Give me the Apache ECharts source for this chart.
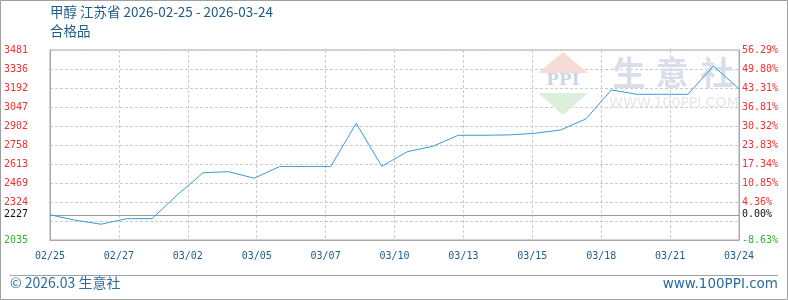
<!DOCTYPE html>
<html>
<head>
<meta charset="utf-8">
<script src="https://cdn.jsdelivr.net/npm/echarts@6/dist/echarts.min.js"></script>
<style>
html,body{margin:0;padding:0;background:#fff;}
#chart{width:788px;height:300px;}
</style>
</head>
<body>
<div id="chart"></div>
<script>
// ---- data ----
var dates = ['02/25','02/26','02/27','02/28','03/01','03/02','03/03','03/04','03/05','03/06',
             '03/07','03/08','03/09','03/10','03/11','03/12','03/13','03/14','03/15','03/16',
             '03/17','03/18','03/19','03/20','03/21','03/22','03/23','03/24'];
var prices = [2227,2185,2155,2197,2198,2380,2547,2555,2505,2594,
              2594,2594,2923,2596,2707,2748,2832,2832,2835,2847,
              2872,2956,3177,3144,3144,3144,3359,3185];
var basePrice = 2227;
var leftTicks  = ['2035','','2324','2469','2613','2758','2902','3047','3192','3336','3481'];
var rightTicks = ['-8.63%','','4.36%','10.85%','17.34%','23.83%','30.32%','36.81%','43.31%','49.80%','56.29%'];
var yMin = 2035, yMax = 3481, yStep = 144.6;
var titleText = '甲醇 江苏省 2026-02-25 - 2026-03-24';
var subTitleText = '合格品';
var footLeft = '© 2026.03 生意社';
var footRight = 'www.100PPI.com';

var seriesData = prices.map(function (v, i) { return [i, v]; });
function tickIdx(v) { return Math.round((v - yMin) / yStep); }
function tickColor(v) {
  var i = tickIdx(v);
  return i === 0 ? '#33b033' : '#f03030';
}
var mono = 'DejaVu Sans Mono';

var chart = echarts.init(document.getElementById('chart'), null, {renderer: 'canvas'});
chart.setOption({
  animation: false,
  backgroundColor: '#fff',
  grid: {left: 50, right: 49, top: 50, bottom: 60, show: true, borderColor: '#a8a8a8', borderWidth: 1},
  xAxis: {
    type: 'value', min: 0, max: dates.length - 1, interval: 2.7,
    axisLine: {show: true, lineStyle: {color: '#a8a8a8'}},
    axisTick: {show: false},
    splitLine: {show: true, lineStyle: {color: '#cccccc', type: [3, 2]}},
    axisLabel: {
      show: true, margin: 11, color: '#1d5b88', fontFamily: mono, fontSize: 10,
      showMinLabel: true, showMaxLabel: true,
      formatter: function (v) { return dates[Math.floor(v + 1e-6)]; }
    }
  },
  yAxis: [{
    type: 'value', min: yMin, max: yMax, interval: yStep, position: 'left',
    axisLine: {show: true, lineStyle: {color: '#a8a8a8'}},
    axisTick: {show: false},
    splitLine: {show: true, lineStyle: {color: '#cccccc', type: [3, 2]}},
    axisLabel: {
      margin: 22, fontFamily: mono, fontSize: 10, color: tickColor,
      showMinLabel: true, showMaxLabel: true,
      formatter: function (v) { return leftTicks[tickIdx(v)]; }
    }
  }, {
    type: 'value', min: yMin, max: yMax, interval: yStep, position: 'right',
    axisLine: {show: true, lineStyle: {color: '#a8a8a8'}},
    axisTick: {show: false},
    splitLine: {show: false},
    axisLabel: {
      margin: 3, fontFamily: mono, fontSize: 10, color: tickColor,
      showMinLabel: true, showMaxLabel: true,
      formatter: function (v) { return rightTicks[tickIdx(v)]; }
    }
  }],
  graphic: [
    {type: 'rect', shape: {x: 0.5, y: 0.5, width: 787, height: 299}, style: {fill: 'none', stroke: '#a0a0a0', lineWidth: 1}, silent: true, z: 0},
    {type: 'text', left: 50, top: 5, style: {text: titleText, fill: '#1d5b88', font: '13.5px "Noto Sans CJK SC"'}, z: 10},
    {type: 'text', left: 50, top: 24, style: {text: subTitleText, fill: '#1d5b88', font: '13.5px "Noto Sans CJK SC"'}, z: 10},
    {type: 'line', shape: {x1: 10, y1: 275.5, x2: 778, y2: 275.5}, style: {stroke: '#a0a0a0', lineWidth: 1}, z: 10},
    {type: 'text', left: 10, top: 276, style: {text: footLeft, fill: '#2a6ca3', font: '14px "Noto Sans CJK SC"'}, z: 10},
    {type: 'text', right: 10, top: 277, style: {text: footRight, fill: '#2a6ca3', font: '13.5px "DejaVu Sans"'}, z: 10},
    // watermark
    {type: 'polygon', shape: {points: [[538, 73], [563, 52], [588, 73]]}, style: {fill: '#f7dcd5'}, silent: true, z: 1},
    {type: 'text', x: 563, y: 81, style: {text: 'PPI', fill: '#cdd4e4', font: 'bold 17px "DejaVu Serif"', align: 'center', verticalAlign: 'middle'}, silent: true, z: 1},
    {type: 'polygon', shape: {points: [[538, 93], [588, 93], [563, 115]]}, style: {fill: '#dcefdc'}, silent: true, z: 1},
    {type: 'text', x: 629, y: 72, style: {text: '生', fill: '#d9deea', font: 'bold 33px "Noto Sans CJK SC"', align: 'center', verticalAlign: 'middle'}, silent: true, z: 1},
    {type: 'text', x: 672, y: 72, style: {text: '意', fill: '#d9deea', font: 'bold 33px "Noto Sans CJK SC"', align: 'center', verticalAlign: 'middle'}, silent: true, z: 1},
    {type: 'text', x: 717, y: 72, style: {text: '社', fill: '#d9deea', font: 'bold 33px "Noto Sans CJK SC"', align: 'center', verticalAlign: 'middle'}, silent: true, z: 1},
    {type: 'text', x: 674, y: 103, style: {text: 'WWW.100PPI.COM', fill: '#e6e6e6', font: '14px "DejaVu Sans"', align: 'center', verticalAlign: 'middle'}, silent: true, z: 1}
  ],
  series: [{
    type: 'line', yAxisIndex: 0, data: seriesData,
    symbol: 'none', smooth: false,
    lineStyle: {color: '#3a9ad9', width: 1},
    z: 5,
    markLine: {
      silent: true, symbol: 'none',
      lineStyle: {color: '#999999', type: 'solid', width: 1},
      data: [
        {yAxis: basePrice, label: {show: true, position: 'start', distance: 22, formatter: String(basePrice), color: '#111', fontFamily: mono, fontSize: 10}},
        {yAxis: basePrice, label: {show: true, position: 'end', distance: 3, formatter: '0.00%', color: '#111', fontFamily: mono, fontSize: 10}}
      ]
    }
  }]
});
</script>
</body>
</html>
